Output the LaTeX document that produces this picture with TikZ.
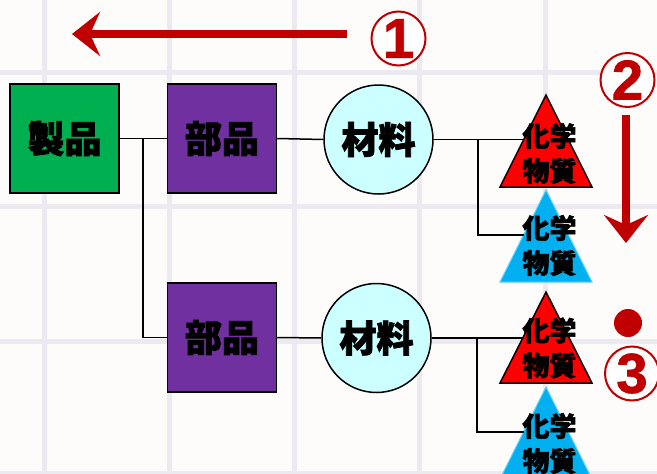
\documentclass[tikz,border=0pt]{standalone}
\usepackage{fontspec}
\newfontfamily\jp{Noto Sans CJK JP}[BoldFeatures={FakeBold=2}]
\newfontfamily\numfont{Liberation Sans}[BoldFeatures={FakeBold=1.5}]
\usetikzlibrary{arrows.meta}
\definecolor{bg}{HTML}{FDFCFA}
\definecolor{gridc}{HTML}{ECE9F0}
\definecolor{dred}{HTML}{C00000}
\definecolor{prodg}{HTML}{00B050}
\definecolor{partp}{HTML}{7030A0}
\definecolor{matc}{HTML}{CCFFFF}
\definecolor{chemr}{HTML}{FF0000}
\definecolor{chemb}{HTML}{00B0F0}
\tikzset{
  gridline/.style={draw=gridc, line width=5pt},
  boxbase/.style={rectangle, draw=black, line width=1.5pt, minimum width=109pt, minimum height=109pt, inner sep=0pt,
    font={\jp\bfseries\fontsize{37}{40}\selectfont}},
  prod/.style={boxbase, fill=prodg},
  part/.style={boxbase, fill=partp},
  mat/.style={circle, draw=black, line width=1.5pt, fill=matc, minimum size=109pt, inner sep=0pt,
    font={\jp\bfseries\fontsize{37}{40}\selectfont}},
  conn/.style={draw=black, line width=1.5pt},
  redtri/.style={fill=chemr, draw=black, line width=1.5pt, line join=miter},
  bluetri/.style={fill=chemb, draw=chemb!60!white, line width=1pt},
  chemtxt/.style={align=center, inner sep=0pt, font={\jp\bfseries\fontsize{27}{35}\selectfont}},
  circnum/.style={circle, draw=dred, line width=2pt, fill=white, minimum size=54pt, inner sep=0pt, text=dred,
    font={\numfont\bfseries\fontsize{56}{56}\selectfont}},
  reddot/.style={circle, fill=dred, minimum size=28pt, inner sep=0pt},
  bigarrow/.style={draw=dred, line width=8pt, -{Stealth[length=28pt, width=44pt, inset=10pt]}},
}
\begin{document}
\begin{tikzpicture}[x=1pt,y=-1pt]
\fill[bg] (0,0) rectangle (657,474);
\useasboundingbox (0,0) rectangle (657,474);
% grid
\foreach \x in {44,169,294,419,545} \draw[gridline] (\x,0) -- (\x,474);
\foreach \y in {72,206,341,473} \draw[gridline] (0,\y) -- (657,\y);

% triangles
\filldraw[redtri] (546,95) -- (592,187) -- (500,187) -- cycle;
\filldraw[bluetri] (546,190) -- (592,282) -- (500,282) -- cycle;
\filldraw[redtri] (546,292) -- (592,383) -- (500,383) -- cycle;
\filldraw[bluetri] (546,387) -- (592,479) -- (500,479) -- cycle;
\coordinate (r1s) at (523.5,139.5);
\coordinate (c1s) at (523.5,235);
\coordinate (r2s) at (523,338);
\coordinate (c2s) at (523.5,432);

% boxes and circles
\node[prod] (prod) at (64.5,138.5) {製品};
\node[part] (b1) at (222,138.5) {部品};
\node[part] (b2) at (222,337.5) {部品};
\node[mat] (m1) at (378.5,139.5) {材料};
\node[mat] (m2) at (376.5,338) {材料};

% connectors
\coordinate (j1) at (143,138.5);
\draw[conn] (prod.east) -- (j1) -- (b1.west);
\draw[conn] (j1) |- (b2.west);
\draw[conn] (b1.east) -- (m1.west);
\draw[conn] (b2.east) -- (m2.west);
\coordinate (j2) at (478,139.5);
\draw[conn] (m1.east) -- (j2) -- (r1s);
\draw[conn] (j2) |- (c1s);
\coordinate (j3) at (477,338);
\draw[conn] (m2.east) -- (j3) -- (r2s);
\draw[conn] (j3) |- (c2s);

% triangle texts
\node[chemtxt] (t1) at (549.5,153.5) {化学\\物質};
\node[chemtxt] (t2) at (549.5,245.5) {化学\\物質};
\node[chemtxt] (t3) at (549.5,348) {化学\\物質};
\node[chemtxt] (t4) at (549.5,443.5) {化学\\物質};

% arrows and markers
\coordinate (a1s) at (347,34);
\coordinate (a1e) at (72,34);
\draw[bigarrow] (a1s) -- (a1e);
\coordinate (a2s) at (626,115);
\coordinate (a2e) at (626,243);
\draw[bigarrow] (a2s) -- (a2e);
\node[circnum] (n1) at (398.5,38.5) {1};
\node[circnum] (n2) at (627.5,80) {2};
\node[reddot] (dot) at (628,323) {};
\node[circnum] (n3) at (632,373.5) {3};
\end{tikzpicture}
\end{document}
